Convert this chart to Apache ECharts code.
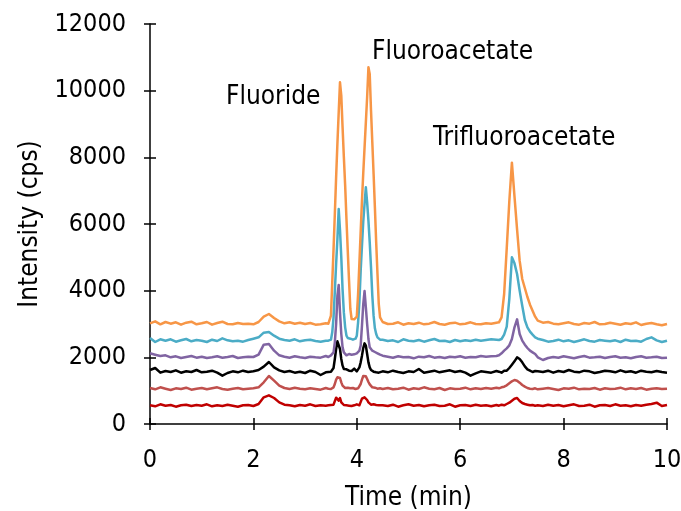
<!DOCTYPE html>
<html>
<head>
<meta charset="utf-8">
<script src="https://cdn.jsdelivr.net/npm/echarts@6/dist/echarts.min.js"></script>
<style>
html,body{margin:0;padding:0;background:#fff;}
#chart{width:681px;height:511px;}
</style>
</head>
<body>
<div id="chart"></div>
<script>
// Retention time grid (min)
var times = [
  0,0.1,0.2,0.3,0.4,0.5,0.6,0.7,0.8,0.9,1,1.1,1.2,1.3,1.4,1.5,1.6,1.7,1.8,1.9,2,2.1,2.2,2.3,2.4,2.5,2.6,2.7,2.8,2.9,3,3.1,3.2,3.3,3.4,
  3.45,3.475,3.5,3.525,3.55,3.575,3.6,3.625,3.65,3.675,3.7,3.725,3.75,3.775,3.8,3.825,3.85,3.875,3.9,3.925,3.95,3.975,4,4.025,4.05,4.075,4.1,4.125,4.15,4.175,4.2,4.225,4.25,4.275,4.3,4.325,4.35,4.375,4.4,4.425,4.45,
  4.5,4.6,4.7,4.8,4.9,5,5.1,5.2,5.3,5.4,5.5,5.6,5.7,5.8,5.9,6,6.1,6.2,6.3,6.4,6.5,6.6,6.7,
  6.75,6.8,6.85,6.9,6.95,7,7.05,7.1,7.15,7.2,7.25,7.3,7.35,7.4,7.45,
  7.5,7.6,7.7,7.8,7.9,8,8.1,8.2,8.3,8.4,8.5,8.6,8.7,8.8,8.9,9,9.1,9.2,9.3,9.4,9.5,9.6,9.7,9.8,9.9,10
];
var orange = [
  3020,3080,2990,3060,3010,3050,2980,3040,3070,2990,3020,3060,2980,3030,3070,3000,2990,3030,3000,3010,2990,3060,3220,3300,3180,3080,3020,3050,3010,3040,3000,3030,2980,2990,3020,
  3010,3030,3250,4250,5230,6300,7400,8420,9350,10250,9850,8900,8000,7150,6150,5200,4300,3450,3150,3120,3140,3150,3220,3900,4830,5770,6700,7530,8290,9050,9810,10700,10500,9400,8450,7500,6500,5450,4500,3600,3200,
  3060,3000,3010,3050,2980,3020,3000,3040,2990,3010,3060,3000,2980,3020,3040,2990,3010,3050,3000,2990,3020,3010,3040,
  3050,3200,3900,5270,6680,7840,6830,5840,4900,4350,4080,3810,3580,3400,3220,
  3100,3040,3060,3010,2990,3020,3050,3000,2980,3030,3010,3060,2990,3000,3040,3010,2980,3020,3000,3050,2970,3010,3030,2990,2960,3000
];
var cyan = [
  2580,2460,2540,2500,2540,2470,2510,2550,2480,2520,2500,2460,2530,2490,2570,2510,2480,2500,2470,2520,2560,2600,2740,2760,2650,2560,2520,2500,2540,2480,2510,2530,2490,2470,2500,
  2500,2480,2530,2750,3200,3980,4800,5550,6450,5820,5000,4030,3340,2900,2650,2580,2540,2560,2500,2530,2510,2560,2650,3050,3650,4600,5350,6080,6600,7100,6650,6100,5450,4700,3850,3250,2870,2700,2600,2560,2530,
  2530,2490,2510,2460,2540,2500,2480,2520,2470,2510,2550,2490,2500,2460,2520,2480,2510,2490,2530,2500,2520,2540,2530,
  2520,2550,2680,2920,3750,5000,4820,4500,4000,3550,3120,2900,2770,2680,2600,
  2560,2520,2470,2490,2530,2480,2510,2460,2500,2540,2490,2470,2520,2500,2480,2510,2460,2530,2490,2500,2470,2550,2600,2510,2460,2500
];
var purple = [
  2120,2080,2040,2060,2000,2030,1980,2010,2040,1990,2020,1980,2000,2030,1990,2010,2040,1980,2000,2020,2010,2080,2380,2400,2200,2060,2020,1990,2030,2000,1980,2020,2000,1990,2040,
  2010,2030,2060,2080,2150,2450,3000,3850,4170,3350,2700,2300,2150,2100,2060,2080,2100,2060,2080,2050,2090,2100,2120,2130,2200,2350,2950,3600,3990,3500,3000,2550,2300,2250,2200,2180,2160,2150,2120,2100,2080,
  2050,2020,1990,2030,2000,2010,1970,2020,2000,2040,1990,2010,1980,2020,2000,2030,1990,2010,2000,2040,2020,2030,2040,
  2060,2120,2200,2270,2360,2550,2900,3140,2700,2500,2380,2280,2200,2150,2100,
  2000,1920,1980,2010,1990,2030,2000,1970,2010,2040,1990,2000,2020,1980,2010,2030,1990,2000,1970,2010,2030,1990,2000,2020,1980,1990
];
var black = [
  1620,1680,1540,1590,1560,1610,1540,1580,1560,1620,1550,1570,1600,1540,1450,1530,1580,1550,1600,1560,1580,1620,1720,1860,1700,1610,1560,1590,1540,1570,1530,1600,1560,1470,1550,
  1560,1580,1570,1590,1680,1950,2250,2480,2500,2250,1950,1750,1650,1600,1640,1680,1600,1570,1590,1610,1660,1600,1580,1620,1700,1850,2050,2280,2420,2350,2100,1850,1700,1620,1580,1570,1580,1550,1570,1540,1560,
  1580,1550,1600,1560,1530,1580,1560,1650,1540,1570,1600,1550,1580,1610,1560,1590,1540,1450,1520,1580,1560,1540,1590,
  1570,1540,1600,1600,1680,1780,1880,2000,1950,1850,1730,1640,1600,1560,1590,
  1580,1560,1600,1540,1590,1560,1620,1570,1550,1600,1580,1530,1560,1600,1580,1550,1610,1560,1580,1540,1600,1570,1550,1590,1560,1540
];
var salmon = [
  1080,1040,1100,1060,1020,1070,1050,1090,1030,1060,1080,1040,1070,1100,1050,1030,1060,1080,1040,1060,1070,1100,1250,1440,1300,1150,1080,1050,1090,1060,1040,1070,1050,1030,1080,
  1060,1080,1050,1070,1100,1200,1330,1400,1420,1380,1250,1150,1100,1080,1060,1090,1050,1070,1040,1080,1060,1050,1090,1070,1120,1200,1330,1440,1470,1430,1350,1260,1190,1140,1100,1070,1090,1050,1060,1040,1070,
  1050,1080,1040,1060,1090,1030,1070,1050,1100,1060,1040,1080,1020,1070,1050,1060,1090,1040,1070,1050,1080,1060,1090,
  1070,1100,1120,1160,1220,1280,1320,1300,1240,1170,1120,1080,1060,1050,1070,
  1040,1060,1080,1050,1020,1070,1060,1090,1040,1060,1050,1080,1030,1070,1050,1060,1090,1040,1070,1050,1080,1030,1060,1070,1050,1060
];
var red = [
  560,530,590,550,570,520,560,580,540,570,550,590,530,560,540,580,550,520,560,570,540,600,800,860,780,650,580,560,530,570,550,590,540,560,550,
  560,540,570,550,580,620,790,760,700,780,650,590,570,600,560,580,550,570,540,580,560,550,590,570,560,620,760,820,800,780,720,650,600,580,560,590,550,570,540,560,580,
  560,540,580,520,560,590,550,570,530,560,580,540,550,590,520,560,570,540,580,550,560,530,570,
  550,580,560,600,640,700,760,780,690,630,600,580,560,570,550,
  560,540,580,550,570,530,560,590,540,550,580,520,560,570,540,590,550,560,530,570,550,580,600,640,540,570
];
var xTicks = [0, 2, 4, 6, 8, 10];
var yTicks = [0, 2000, 4000, 6000, 8000, 10000, 12000];
var peakLabels = ['Fluoride', 'Fluoroacetate', 'Trifluoroacetate'];

var FONT = '"DejaVu Sans Condensed", "DejaVu Sans", sans-serif';
function pairs(vals) { return times.map(function (t, i) { return [t, vals[i]]; }); }
function mk(name, vals, color) {
  return { name: name, type: 'line', data: pairs(vals), showSymbol: false, symbol: 'none',
    lineStyle: { color: color, width: 2.5, join: 'round' }, itemStyle: { color: color }, animation: false, z: 3 };
}
var chart = echarts.init(document.getElementById('chart'), null, { renderer: 'canvas' });
var axisCommon = {
  axisLine: { show: true, lineStyle: { color: '#000', width: 1.5 } },
  splitLine: { show: false }
};
chart.setOption({
  animation: false,
  backgroundColor: '#fff',
  grid: { left: 150, right: 14, top: 24, bottom: 87, containLabel: false, outerBoundsMode: 'none' },
  xAxis: [
    Object.assign({ type: 'value', min: xTicks[0], max: xTicks[xTicks.length - 1], interval: 2,
      name: 'Time (min)', nameLocation: 'middle', nameGap: 61,
      nameTextStyle: { fontFamily: FONT, fontSize: 26, color: '#000' },
      axisTick: { show: true, length: 6, lineStyle: { color: '#000', width: 1.5 } },
      axisLabel: { fontFamily: FONT, fontSize: 25, color: '#000', margin: 24,
        formatter: function (v) { return String(v); } } }, axisCommon),
    { type: 'value', min: 0, max: 10, interval: 2, position: 'bottom',
      axisLine: { show: false }, splitLine: { show: false }, axisLabel: { show: false },
      axisTick: { show: true, inside: true, length: 6, lineStyle: { color: '#000', width: 1.5 } } }
  ],
  yAxis: [
    Object.assign({ type: 'value', min: yTicks[0], max: yTicks[yTicks.length - 1], interval: 2000,
      name: 'Intensity (cps)', nameLocation: 'middle', nameGap: 90,
      nameTextStyle: { fontFamily: FONT, fontSize: 26, color: '#000' },
      axisTick: { show: true, length: 6, lineStyle: { color: '#000', width: 1.5 } },
      axisLabel: { fontFamily: FONT, fontSize: 25, color: '#000', margin: 24,
        formatter: function (v) { return String(v); } } }, axisCommon),
    { type: 'value', min: 0, max: 12000, interval: 2000, position: 'left',
      axisLine: { show: false }, splitLine: { show: false }, axisLabel: { show: false },
      axisTick: { show: true, inside: true, length: 6, lineStyle: { color: '#000', width: 1.5 } } }
  ],
  series: [
    mk('red', red, '#C00000'),
    mk('salmon', salmon, '#C0504D'),
    mk('black', black, '#000000'),
    mk('purple', purple, '#8064A2'),
    mk('cyan', cyan, '#4BACC6'),
    mk('orange', orange, '#F79646')
  ],
  graphic: [
    { type: 'text', left: 226, top: 84, style: { text: peakLabels[0], font: '26px ' + FONT, fill: '#000' } },
    { type: 'text', left: 372, top: 39, style: { text: peakLabels[1], font: '26px ' + FONT, fill: '#000' } },
    { type: 'text', left: 433, top: 125, style: { text: peakLabels[2], font: '26px ' + FONT, fill: '#000' } }
  ]
});
</script>
</body>
</html>
